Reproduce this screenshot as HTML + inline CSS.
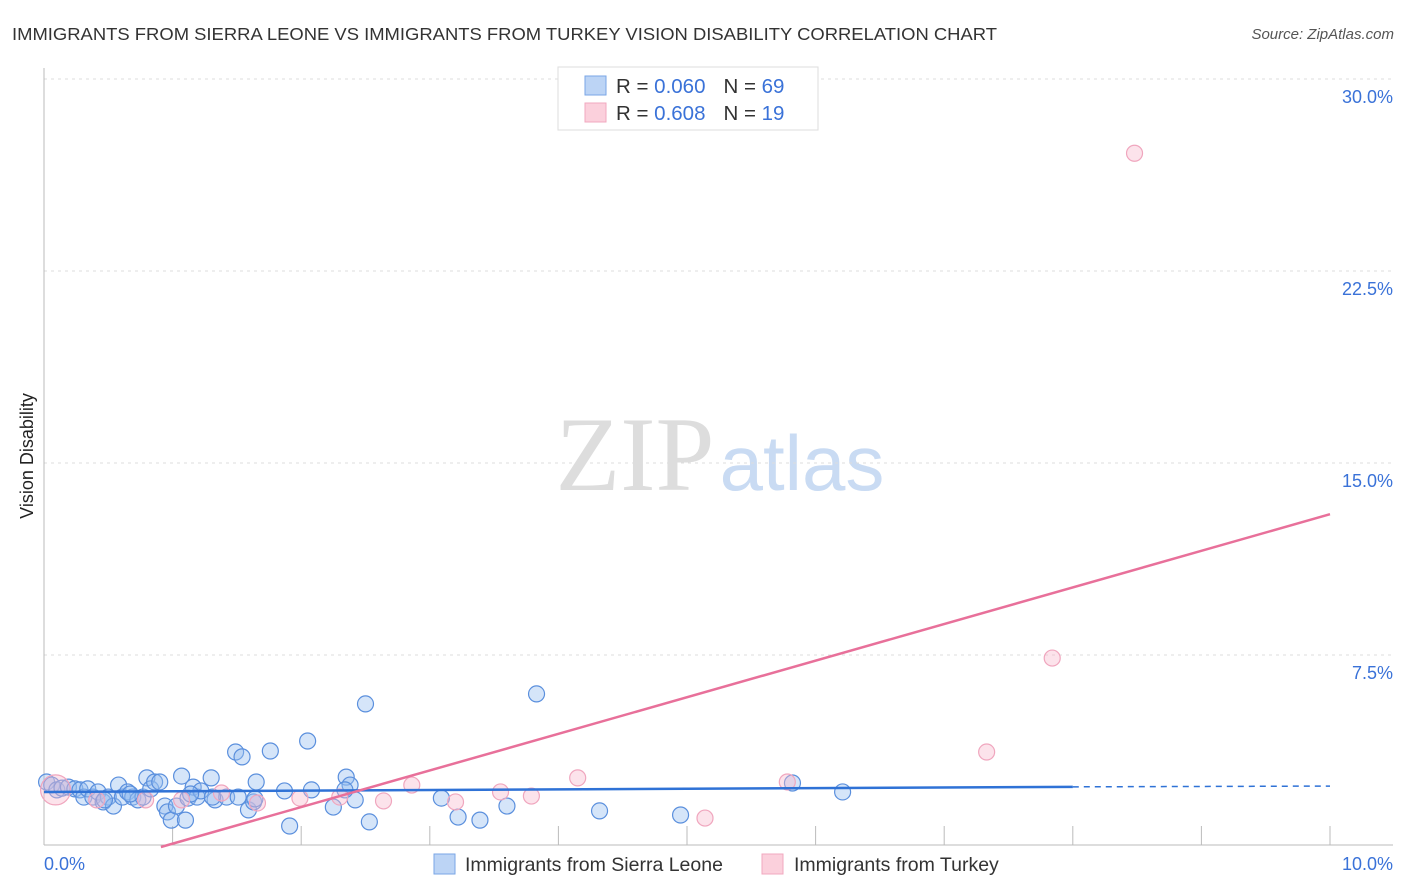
<!DOCTYPE html>
<html><head><meta charset="utf-8"><style>
body{margin:0;background:#fff;font-family:"Liberation Sans",sans-serif}
svg{display:block}
</style></head><body>
<svg id="c" width="1406" height="892" xmlns="http://www.w3.org/2000/svg">
<text x="12" y="40" font-size="17.5" fill="#333" textLength="985" lengthAdjust="spacingAndGlyphs">IMMIGRANTS FROM SIERRA LEONE VS IMMIGRANTS FROM TURKEY VISION DISABILITY CORRELATION CHART</text>
<text x="1394" y="39" font-size="15" fill="#555" font-style="italic" text-anchor="end">Source: ZipAtlas.com</text>
<text x="33" y="456" font-size="18" fill="#222" text-anchor="middle" transform="rotate(-90 33 456)">Vision Disability</text>
<g>
<text x="635" y="490" font-family="Liberation Serif,serif" font-size="106" fill="#ddd" text-anchor="middle">ZIP</text>
<text x="802" y="490" font-size="78" fill="#c9dbf3" text-anchor="middle">atlas</text>
</g>
<g id="grid"></g>
<g id="axes"></g>
<g id="pts"></g>
<g id="lines"></g>
<g>
<rect x="558" y="67" width="260" height="63" fill="#fff" stroke="#ddd"/>
<rect x="585" y="76" width="21" height="19" fill="#bcd4f5" stroke="#7aa6e6"/>
<rect x="585" y="103" width="21" height="19" fill="#fbd0dc" stroke="#f2a8bf"/>
<text x="616" y="93" font-size="20.5" fill="#333">R = <tspan fill="#3a72d8">0.060</tspan><tspan dx="18">N = </tspan><tspan fill="#3a72d8">69</tspan></text>
<text x="616" y="120" font-size="20.5" fill="#333">R = <tspan fill="#3a72d8">0.608</tspan><tspan dx="18">N = </tspan><tspan fill="#3a72d8">19</tspan></text>
</g>
<g>
<rect x="434" y="854" width="21" height="20" fill="#bcd4f5" stroke="#7aa6e6"/>
<text x="465" y="871" font-size="19.5" fill="#333">Immigrants from Sierra Leone</text>
<rect x="762" y="854" width="21" height="20" fill="#fbd0dc" stroke="#f2a8bf"/>
<text x="794" y="871" font-size="19.5" fill="#333">Immigrants from Turkey</text>
</g>
<text x="44" y="870" font-size="18" fill="#3a72d8">0.0%</text>
<text x="1393" y="870" font-size="18" fill="#3a72d8" text-anchor="end">10.0%</text>
</svg>
<script>
const yTicks=[30,22.5,15,7.5];
const yTickLabels=["30.0%","22.5%","15.0%","7.5%"];
const blueX=[0.02,0.06,0.10,0.14,0.19,0.24,0.28,0.31,0.34,0.38,0.42,0.46,0.50,0.54,0.58,0.61,0.65,0.69,0.73,0.77,0.80,0.83,0.86,0.90,0.94,0.96,0.99,1.03,1.07,1.10,1.12,1.16,1.19,1.22,1.30,1.33,1.42,1.49,1.54,1.51,1.59,1.63,1.65,1.76,1.87,1.91,2.05,2.08,2.25,2.35,2.38,2.42,2.50,2.53,3.09,3.22,3.39,3.60,3.83,4.32,4.95,5.82,6.21,0.47,0.67,1.64,2.34,1.31,1.14];
const blueY=[2.54,2.42,2.23,2.30,2.34,2.27,2.23,1.95,2.27,1.95,2.15,1.76,1.95,1.60,2.42,1.95,2.15,1.95,1.84,1.95,2.70,2.27,2.54,2.54,1.60,1.37,1.05,1.60,2.77,1.05,1.91,2.34,1.95,2.19,2.70,1.84,1.95,3.71,3.52,1.95,1.45,1.76,2.54,3.75,2.19,0.82,4.14,2.23,1.56,2.73,2.42,1.84,5.59,0.98,1.91,1.17,1.05,1.60,5.98,1.41,1.25,2.50,2.15,1.84,2.07,1.88,2.23,1.95,2.07];
const pinkX=[0.09,0.41,0.79,1.07,1.38,1.66,1.99,2.30,2.64,2.86,3.20,3.55,3.79,4.15,5.14,5.78,7.33,7.84,8.48];
const pinkY=[2.23,1.84,1.84,1.84,2.11,1.72,1.91,1.95,1.80,2.42,1.76,2.15,1.99,2.70,1.13,2.54,3.71,7.38,27.1];
const blueTrend=[2.15,2.35,2.38]; // at x=0, x=8, x=10
const pinkTrend=[-1.3,13.0]; // at x=0, x=10
const NS="http://www.w3.org/2000/svg";
const X=v=>44+v*128.6, Y=v=>847-v*25.6;
function mk(parent,tag,attrs){const e=document.createElementNS(NS,tag);for(const k in attrs)e.setAttribute(k,attrs[k]);document.getElementById(parent).appendChild(e);return e;}
yTicks.forEach((t,i)=>{
 const l=mk('grid','line',{x1:44,x2:1393,y1:Y(t),y2:Y(t),stroke:'#ddd','stroke-dasharray':'3,4'});
 
 
 const tx=mk('grid','text',{x:1393,y:Y(t)+24,'font-size':18,fill:'#3a72d8','text-anchor':'end'});
 tx.textContent=yTickLabels[i];
 
 
});
let a=mk('axes','line',{x1:44,x2:44,y1:68,y2:845,stroke:'#bbb'});


a=mk('axes','line',{x1:44,x2:1393,y1:845,y2:845,stroke:'#bbb'});


for(let k=1;k<=10;k++){
 const t=mk('axes','line',{x1:X(k),x2:X(k),y1:826,y2:845,stroke:'#bbb'});
 
 
}
blueX.forEach((x,i)=>{
 const c=mk('pts','circle',{cx:X(x),cy:Y(blueY[i]),r:8,fill:'rgba(150,190,240,0.4)',stroke:'#5a8fdd','stroke-width':1.2});
 
 
});
pinkX.forEach((x,i)=>{
 const c=mk('pts','circle',{cx:X(x),cy:Y(pinkY[i]),r:i==0?15:8,fill:'rgba(248,185,205,0.4)',stroke:'#f0a6be','stroke-width':1.2});
 
 
});
let l=mk('lines','line',{x1:X(0),y1:Y(blueTrend[0]),x2:X(8),y2:Y(blueTrend[1]),stroke:'#2f72d6','stroke-width':2.5});


l=mk('lines','line',{x1:X(8),y1:Y(blueTrend[1]),x2:X(10),y2:Y(blueTrend[2]),stroke:'#2f72d6','stroke-width':1.5,'stroke-dasharray':'6,5'});


const x0=-pinkTrend[0]/(pinkTrend[1]-pinkTrend[0])*10;
l=mk('lines','line',{x1:X(x0),y1:Y(0),x2:X(10),y2:Y(pinkTrend[1]),stroke:'#e8709a','stroke-width':2.5});


</script>
</body></html>
